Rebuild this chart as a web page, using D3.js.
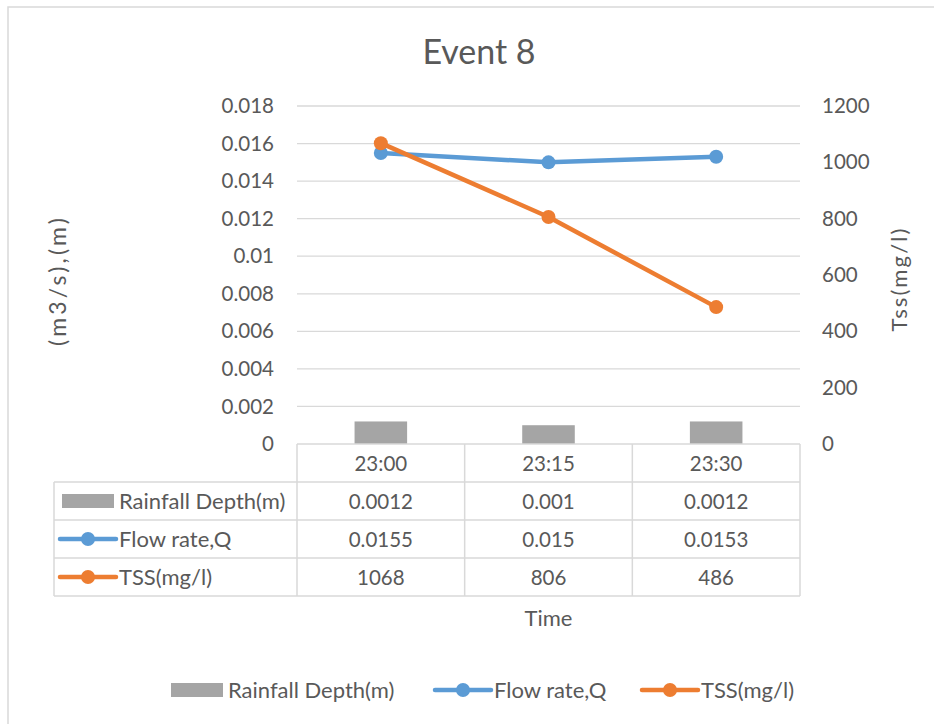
<!DOCTYPE html>
<html>
<head>
<meta charset="utf-8">
<script src="https://cdn.jsdelivr.net/npm/d3@7"></script>
<style>
  html, body { margin: 0; padding: 0; background: #fff; }
  svg { display: block; font-family: Lato, "Open Sans", sans-serif; }
</style>
</head>
<body>
<svg id="chart" width="934" height="724"></svg>
<script>
// Sampling times (categories)
const times = ["23:00", "23:15", "23:30"];
// Series values
const rainfallDepth = [0.0012, 0.001, 0.0012];
const flowRate = [0.0155, 0.015, 0.0153];
const tss = [1068, 806, 486];
// Series names
const seriesNames = ["Rainfall Depth(m)", "Flow rate,Q", "TSS(mg/l)"];
// Axis ticks
const leftTicks = [0, 0.002, 0.004, 0.006, 0.008, 0.01, 0.012, 0.014, 0.016, 0.018];
const rightTicks = [0, 200, 400, 600, 800, 1000, 1200];
// Table cell labels
const rainfallLabels = ["0.0012", "0.001", "0.0012"];
const flowLabels = ["0.0155", "0.015", "0.0153"];
const tssLabels = ["1068", "806", "486"];

const colors = { bar: "#A5A5A5", flow: "#5B9BD5", tss: "#ED7D31", grid: "#D9D9D9", text: "#595959" };
const numSize = 20.5;   // numeric labels
const wordSize = 22;    // word labels

const svg = d3.select("#chart");
const plot = { left: 297, right: 800, top: 106, bottom: 444 };
const rowH = 38;
const tableLeft = 54;

// Chart frame
svg.append("rect")
  .attr("x", 8).attr("y", 7).attr("width", 980).attr("height", 760)
  .attr("fill", "#fff").attr("stroke", colors.grid).attr("stroke-width", 1.5);

// Scales
const x = d3.scaleBand().domain(times).range([plot.left, plot.right]);
const yL = d3.scaleLinear().domain([0, 0.018]).range([plot.bottom, plot.top]);
const yR = d3.scaleLinear().domain([0, 1200]).range([plot.bottom, plot.top]);
const cx = d => x(d) + x.bandwidth() / 2;

// Title
svg.append("text")
  .attr("x", 479).attr("y", 64)
  .attr("text-anchor", "middle")
  .attr("fill", colors.text)
  .attr("font-size", 34)
  .text("Event 8");

// Gridlines
svg.append("g").selectAll("line").data(leftTicks.slice(1)).join("line")
  .attr("x1", plot.left).attr("x2", plot.right)
  .attr("y1", d => yL(d)).attr("y2", d => yL(d))
  .attr("stroke", colors.grid).attr("stroke-width", 1.3);

// Left axis
const fmtL = d => String(+d.toFixed(3));
const gL = svg.append("g")
  .attr("transform", `translate(${plot.left - 23},0)`)
  .call(d3.axisLeft(yL).tickValues(leftTicks).tickFormat(fmtL).tickSize(0).tickPadding(0));
gL.select(".domain").remove();
gL.selectAll("text").attr("fill", colors.text).attr("font-size", numSize).attr("font-family", "Lato");

// Right axis
const gR = svg.append("g")
  .attr("transform", `translate(${plot.right + 22},0)`)
  .call(d3.axisRight(yR).tickValues(rightTicks).tickFormat(d => String(d)).tickSize(0).tickPadding(0));
gR.select(".domain").remove();
gR.selectAll("text").attr("fill", colors.text).attr("font-size", numSize).attr("font-family", "Lato");

// Axis titles
svg.append("text")
  .attr("transform", "translate(66,282) rotate(-90)")
  .attr("text-anchor", "middle").attr("fill", colors.text).attr("font-size", 23)
  .attr("textLength", 128).attr("lengthAdjust", "spacing")
  .text("(m3/s),(m)");
svg.append("text")
  .attr("transform", "translate(907,280) rotate(-90)")
  .attr("text-anchor", "middle").attr("fill", colors.text).attr("font-size", 22)
  .attr("textLength", 103).attr("lengthAdjust", "spacing")
  .text("Tss(mg/l)");

// Rainfall bars
const barW = x.bandwidth() / 3.19;
svg.append("g").selectAll("rect").data(rainfallDepth).join("rect")
  .attr("x", (d, i) => cx(times[i]) - barW / 2)
  .attr("y", d => yL(d))
  .attr("width", barW)
  .attr("height", d => yL(0) - yL(d))
  .attr("fill", colors.bar);

// Lines with markers
function drawSeries(values, scale, color) {
  const line = d3.line().x((d, i) => cx(times[i])).y(d => scale(d));
  svg.append("path").datum(values)
    .attr("d", line).attr("fill", "none")
    .attr("stroke", color).attr("stroke-width", 4.5).attr("stroke-linejoin", "round");
  svg.append("g").selectAll("circle").data(values).join("circle")
    .attr("cx", (d, i) => cx(times[i])).attr("cy", d => scale(d))
    .attr("r", 7).attr("fill", color);
}
drawSeries(flowRate, yL, colors.flow);
drawSeries(tss, yR, colors.tss);

// Data table
const table = svg.append("g");
const tableBottom = plot.bottom + rowH * 4;
const hLines = [
  { y: plot.bottom, x1: plot.left },
  { y: plot.bottom + rowH, x1: tableLeft },
  { y: plot.bottom + rowH * 2, x1: tableLeft },
  { y: plot.bottom + rowH * 3, x1: tableLeft },
  { y: tableBottom, x1: tableLeft }
];
table.selectAll("line.h").data(hLines).join("line")
  .attr("class", "h")
  .attr("x1", d => d.x1).attr("x2", plot.right)
  .attr("y1", d => d.y).attr("y2", d => d.y)
  .attr("stroke", colors.grid).attr("stroke-width", 1.5);
const vCols = times.map(t => x(t)).concat([plot.right]);
table.selectAll("line.v").data(vCols).join("line")
  .attr("class", "v")
  .attr("x1", d => d).attr("x2", d => d)
  .attr("y1", plot.bottom).attr("y2", tableBottom)
  .attr("stroke", colors.grid).attr("stroke-width", 1.5);
table.append("line")
  .attr("x1", tableLeft).attr("x2", tableLeft)
  .attr("y1", plot.bottom + rowH).attr("y2", tableBottom)
  .attr("stroke", colors.grid).attr("stroke-width", 1.5);

// Header row with times
table.selectAll("text.head").data(times).join("text")
  .attr("class", "head")
  .attr("x", d => cx(d)).attr("y", plot.bottom + rowH / 2 + 7.5)
  .attr("text-anchor", "middle").attr("fill", colors.text).attr("font-size", numSize)
  .text(d => d);

const rows = [rainfallLabels, flowLabels, tssLabels];
rows.forEach((labels, r) => {
  const yMid = plot.bottom + rowH * (r + 1) + rowH / 2;
  table.append("g").selectAll("text").data(labels).join("text")
    .attr("x", (d, i) => cx(times[i])).attr("y", yMid + 7.5)
    .attr("text-anchor", "middle").attr("fill", colors.text).attr("font-size", numSize)
    .text(d => d);
});

// Legend keys
function legendKey(g, kind, x0, yMid) {
  if (kind === 0) {
    g.append("rect").attr("x", x0).attr("y", yMid - 7).attr("width", 52).attr("height", 14).attr("fill", colors.bar);
  } else {
    const c = kind === 1 ? colors.flow : colors.tss;
    g.append("line").attr("x1", x0).attr("x2", x0 + 56).attr("y1", yMid).attr("y2", yMid)
      .attr("stroke", c).attr("stroke-width", 4.5).attr("stroke-linecap", "round");
    g.append("circle").attr("cx", x0 + 28).attr("cy", yMid).attr("r", 7).attr("fill", c);
  }
}

// Series keys inside the table
seriesNames.forEach((name, r) => {
  const yMid = plot.bottom + rowH * (r + 1) + rowH / 2;
  legendKey(table, r, r === 0 ? 62 : 60, yMid);
  table.append("text")
    .attr("x", 119).attr("y", yMid + 8)
    .attr("fill", colors.text).attr("font-size", wordSize)
    .text(name);
});

// X axis title
svg.append("text")
  .attr("x", cx(times[1])).attr("y", 626)
  .attr("text-anchor", "middle").attr("fill", colors.text).attr("font-size", wordSize)
  .text("Time");

// Bottom legend
const legendY = 690;
const legendItems = [
  { kind: 0, keyX: 171, textX: 228 },
  { kind: 1, keyX: 435, textX: 494 },
  { kind: 2, keyX: 642, textX: 701 }
];
const legend = svg.append("g");
legendItems.forEach((it, i) => {
  legendKey(legend, it.kind, it.keyX, legendY);
  legend.append("text")
    .attr("x", it.textX).attr("y", legendY + 8)
    .attr("fill", colors.text).attr("font-size", wordSize)
    .text(seriesNames[i]);
});
</script>
</body>
</html>
